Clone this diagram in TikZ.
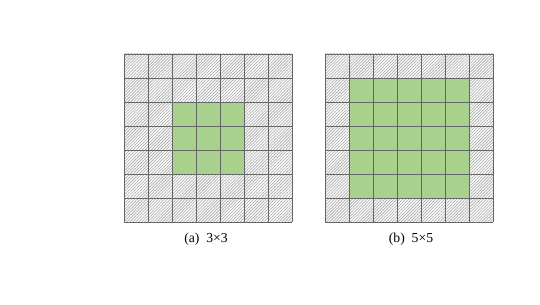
\documentclass[tikz,border=0pt]{standalone}
\usepackage{fontspec}
\setmainfont{Liberation Serif}
\usetikzlibrary{patterns.meta}
\definecolor{cellgreen}{HTML}{A9D18E}

\begin{document}
\begin{tikzpicture}[x=0.02cm, y=-0.02cm,
    hatched/.style={pattern={Lines[angle=45, distance=1.2pt, line width=0.45pt]}, pattern color=black!30},
    gridline/.style={draw=black!60, line width=0.5pt},
    caption/.style={font=\fontsize{7.8}{9}\selectfont, inner sep=0pt}]
    \useasboundingbox (0, 0) rectangle (540, 304);

    % (a) 3x3 window
    \fill[hatched] (124, 54) rectangle (292, 222);
    \fill[cellgreen] (172, 102) rectangle (244, 174);
    \foreach \i in {0,...,7} {
        \draw[gridline] (124+24*\i, 54) -- (124+24*\i, 222);
        \draw[gridline] (124, 54+24*\i) -- (292, 54+24*\i);
    }
    \node[caption] (capa) at (206, 239) {(a)\enspace 3×3};

    % (b) 5x5 window
    \fill[hatched] (325, 54) rectangle (493, 222);
    \fill[cellgreen] (349, 78) rectangle (469, 198);
    \foreach \i in {0,...,7} {
        \draw[gridline] (325+24*\i, 54) -- (325+24*\i, 222);
        \draw[gridline] (325, 54+24*\i) -- (493, 54+24*\i);
    }
    \node[caption] (capb) at (411, 239) {(b)\enspace 5×5};
\end{tikzpicture}
\end{document}
